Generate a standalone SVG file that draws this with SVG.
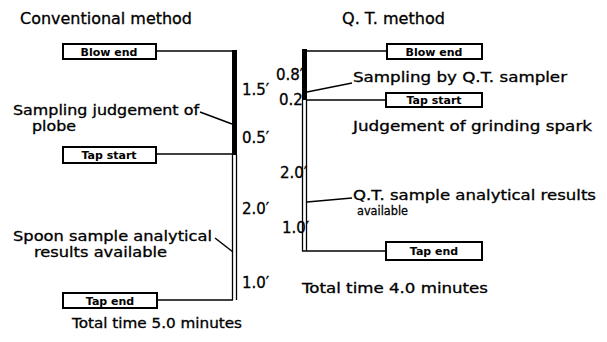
<svg xmlns="http://www.w3.org/2000/svg" width="607" height="342" viewBox="0 0 607 342">
<style>
text{font-family:"DejaVu Sans","Liberation Sans",sans-serif;fill:#000;stroke:#000;stroke-width:0.3}
.t{font-size:15px}
.l{font-size:13.5px}
.s{font-size:13px}
.n{font-size:15px}
.b{font-size:11px;font-weight:bold;text-anchor:middle;stroke-width:0}
.box{fill:#fff;stroke:#000;stroke-width:2}
.ln{stroke:#000;stroke-width:1.5;fill:none}
.thin{stroke:#000;stroke-width:1.3;fill:none}
</style>
<rect width="607" height="342" fill="#fff"/>
<g id="titles">
<text class="t" x="20" y="24" textLength="172" lengthAdjust="spacingAndGlyphs">Conventional method</text>
<text class="t" x="342" y="24" textLength="103" lengthAdjust="spacingAndGlyphs">Q. T. method</text>
</g>
<g id="connectors">
<rect x="232" y="50" width="5" height="105" fill="#000"/>
<line class="thin" x1="232.5" y1="155" x2="232.5" y2="300"/>
<line class="thin" x1="236.5" y1="155" x2="236.5" y2="300"/>
<line class="ln" x1="156" y1="51" x2="233" y2="51"/>
<line class="ln" x1="156" y1="154" x2="233" y2="154"/>
<line class="ln" x1="157" y1="300" x2="233" y2="300"/>
<line class="ln" x1="200" y1="112" x2="232" y2="124"/>
<line class="ln" x1="215" y1="238" x2="233" y2="252"/>
<rect x="302" y="49" width="5" height="51" fill="#000"/>
<line class="thin" x1="302.5" y1="100" x2="302.5" y2="251"/>
<line class="thin" x1="306.5" y1="100" x2="306.5" y2="251"/>
<line class="ln" x1="307" y1="51" x2="387" y2="51"/>
<line class="ln" x1="307" y1="100" x2="386" y2="100"/>
<line class="ln" x1="302" y1="251" x2="386" y2="251"/>
<line class="ln" x1="307" y1="92" x2="352" y2="83"/>
<line class="ln" x1="307" y1="202" x2="352" y2="198"/>
</g>
<g id="n-blow-end-conv">
<rect class="box" x="63" y="44" width="93" height="15"/>
<text class="b" x="109" y="55.5">Blow end</text>
</g>
<g id="n-tap-start-conv">
<rect class="box" x="63" y="147" width="93" height="16"/>
<text class="b" x="109" y="159">Tap start</text>
</g>
<g id="n-tap-end-conv">
<rect class="box" x="63" y="293" width="94" height="15"/>
<text class="b" x="110" y="304.5">Tap end</text>
</g>
<g id="n-blow-end-qt">
<rect class="box" x="387" y="44" width="95" height="15"/>
<text class="b" x="434" y="55.5">Blow end</text>
</g>
<g id="n-tap-start-qt">
<rect class="box" x="386" y="93" width="96" height="14"/>
<text class="b" x="434" y="104">Tap start</text>
</g>
<g id="n-tap-end-qt">
<rect class="box" x="386" y="242" width="96" height="18"/>
<text class="b" x="434" y="255">Tap end</text>
</g>
<g id="labels">
<text class="l" x="13" y="115" textLength="186" lengthAdjust="spacingAndGlyphs">Sampling judgement of</text>
<text class="l" x="32" y="131" textLength="44" lengthAdjust="spacingAndGlyphs">plobe</text>
<text class="l" x="13" y="241" textLength="199" lengthAdjust="spacingAndGlyphs">Spoon sample analytical</text>
<text class="l" x="34" y="257" textLength="133" lengthAdjust="spacingAndGlyphs">results available</text>
<text class="l" x="72" y="328" textLength="170" lengthAdjust="spacingAndGlyphs">Total time 5.0 minutes</text>
<text class="l" x="353" y="82" textLength="214" lengthAdjust="spacingAndGlyphs">Sampling by Q.T. sampler</text>
<text class="l" x="353" y="131" textLength="239" lengthAdjust="spacingAndGlyphs">Judgement of grinding spark</text>
<text class="l" x="353" y="200" textLength="243" lengthAdjust="spacingAndGlyphs">Q.T. sample analytical results</text>
<text class="s" x="357" y="215" textLength="51" lengthAdjust="spacingAndGlyphs">available</text>
<text class="l" x="302" y="293" textLength="186" lengthAdjust="spacingAndGlyphs">Total time 4.0 minutes</text>
</g>
<g id="durations">
<text class="n" x="242" y="95">1.5′</text>
<text class="n" x="242" y="143">0.5′</text>
<text class="n" x="242" y="214">2.0′</text>
<text class="n" x="242" y="288">1.0′</text>
<text class="n" x="276" y="80">0.8′</text>
<text class="n" x="279" y="105">0.2′</text>
<text class="n" x="280" y="178">2.0′</text>
<text class="n" x="282" y="233">1.0′</text>
</g>
</svg>
